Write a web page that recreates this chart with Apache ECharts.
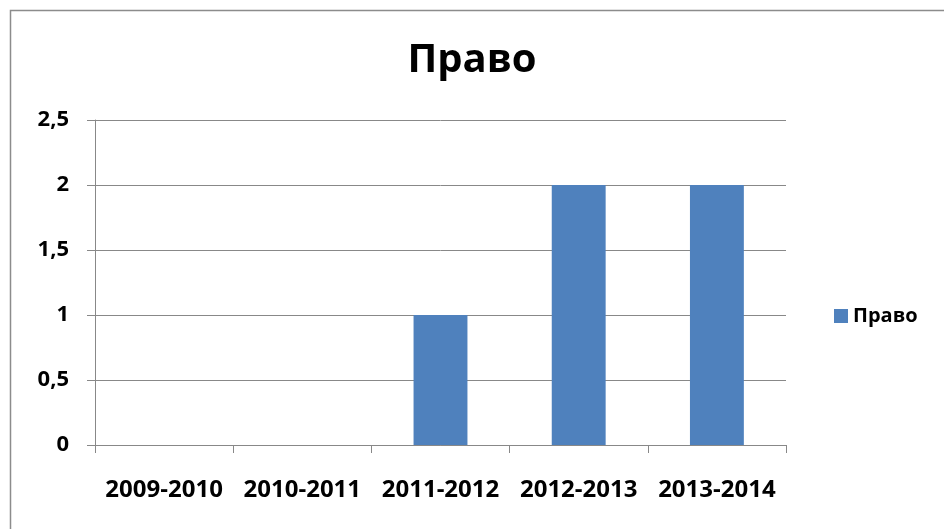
<!DOCTYPE html>
<html><head><meta charset="utf-8">
<script src="https://cdn.jsdelivr.net/npm/echarts@6/dist/echarts.min.js"></script>
<style>html,body{margin:0;padding:0;background:#fff}#c{width:944px;height:529px}</style>
</head><body><div id="c"></div>
<script>
const categories = ['2009-2010','2010-2011','2011-2012','2012-2013','2013-2014'];
const seriesName = 'Право';
const values = [0, 0, 1, 2, 2];
const yTicks = [0, 0.5, 1, 1.5, 2, 2.5];

const FONT = '"Open Sans", sans-serif';
const chart = echarts.init(document.getElementById('c'));
chart.setOption({
  animation: false,
  backgroundColor: '#fff',
  title: {
    text: 'Право', left: 'center', top: 36,
    textStyle: {fontFamily: FONT, fontWeight: 'bold', fontSize: 40, color: '#000'}
  },
  legend: {
    orient: 'vertical', left: 829, top: 301,
    itemWidth: 14, itemHeight: 14, itemGap: 10,
    icon: 'rect',
    textStyle: {fontFamily: FONT, fontWeight: 'bold', fontSize: 20, color: '#000'},
    data: [seriesName]
  },
  grid: {left: 95, right: 158, top: 120, bottom: 84, containLabel: false},
  xAxis: {
    type: 'category', data: categories, boundaryGap: true,
    axisLine: {lineStyle: {color: '#888', width: 1}},
    axisTick: {show: true, length: 8, inside: false, alignWithLabel: false, lineStyle: {color: '#888'}},
    axisLabel: {interval: 0, hideOverlap: false, margin: 33, fontFamily: FONT, fontWeight: 'bold', fontSize: 24, color: '#000'}
  },
  yAxis: {
    type: 'value', min: 0, max: 2.5, interval: 0.5,
    axisLine: {show: true, lineStyle: {color: '#888', width: 1}},
    axisTick: {show: true, length: 8, lineStyle: {color: '#888'}},
    splitLine: {lineStyle: {color: '#888', width: 1}},
    axisLabel: {margin: 26, fontFamily: FONT, fontWeight: 'bold', fontSize: 22, color: '#000',
      formatter: v => { const s = yTicks.find(t => Math.abs(t - v) < 1e-9); return String(s).replace('.', ','); }}
  },
  series: [{
    name: seriesName, type: 'bar', data: values, barWidth: '39%',
    itemStyle: {color: '#4F81BD'}
  }],
  graphic: [{
    type: 'rect', left: 8, top: 8, shape: {x: 0, y: 0, width: 960, height: 560},
    style: {fill: 'none', stroke: '#8c8c8c', lineWidth: 1.5}, silent: true, z: -1
  }]
});
</script></body></html>
